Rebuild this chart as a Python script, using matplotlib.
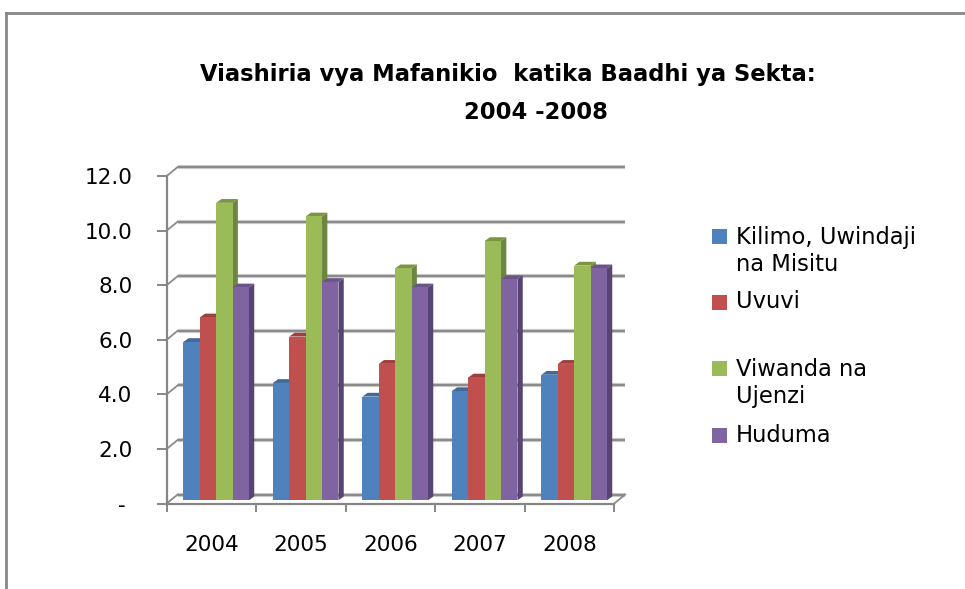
import matplotlib
matplotlib.use("Agg")
import matplotlib.pyplot as plt
from matplotlib.patches import Polygon, Rectangle
from matplotlib.lines import Line2D
import numpy as np

# ---------------- data ----------------
years = ["2004", "2005", "2006", "2007", "2008"]
series_names = ["Kilimo, Uwindaji\nna Misitu", "Uvuvi", "Viwanda na\nUjenzi", "Huduma"]
kilimo = [5.8, 4.3, 3.8, 4.0, 4.6]
uvuvi = [6.7, 6.0, 5.0, 4.5, 5.0]
viwanda = [10.9, 10.4, 8.5, 9.5, 8.6]
huduma = [7.8, 8.0, 7.8, 8.1, 8.5]
y_ticks = [0, 2, 4, 6, 8, 10, 12]
y_tick_labels = ["- ", "2.0", "4.0", "6.0", "8.0", "10.0", "12.0"]
title_line1 = "Viashiria vya Mafanikio  katika Baadhi ya Sekta:"
title_line2 = "2004 -2008"

series = [kilimo, uvuvi, viwanda, huduma]
front_cols = ["#4F81BD", "#C0504D", "#9BBB59", "#8064A2"]
side_cols = ["#365E8C", "#873735", "#6C8540", "#574473"]
top_cols = ["#40699C", "#9E403E", "#7B963F", "#6A5488"]

W, H = 965, 589
fig = plt.figure(figsize=(W / 100, H / 100), dpi=100)
fig.patch.set_facecolor("white")

# outer frame (top and left edges visible)
fig.add_artist(Line2D([6 / W, 1.0], [1 - 13 / H, 1 - 13 / H], color="#878787", lw=2.0, transform=fig.transFigure))
fig.add_artist(Line2D([6 / W, 6 / W], [0, 1 - 13 / H], color="#878787", lw=2.0, transform=fig.transFigure))

# front plane of the axes in pixels
x0, x1 = 166.7, 614.2
y0, y1 = 503.5, 176.0
ax = fig.add_axes([x0 / W, 1 - y0 / H, (x1 - x0) / W, (y0 - y1) / H])
ax.set_xlim(-0.5, len(years) - 0.5)
ax.set_ylim(0, 12)
ax.set_facecolor("none")

xr = (len(years)) / (x1 - x0)   # data units per px in x
yr = 12.0 / (y0 - y1)           # data units per px in y

def d(px_x, px_y):
    return px_x * xr, px_y * yr

# back wall offset and bar geometry (styling)
wall_dx, wall_dy = d(11, 9)
bar_dx, bar_dy = d(4.7, 3.2)
dep_dx, dep_dy = d(5.3, 3.8)
bw = 16.4 * xr

gray = "#8A8A8A"
xl, xh = -0.5, len(years) - 0.5
for v in y_ticks:
    ax.plot([xl + wall_dx, xh + wall_dx], [v + wall_dy, v + wall_dy], color="#C8C8C8", lw=3.0, solid_capstyle="butt", zorder=1, clip_on=False)
    ax.plot([xl + wall_dx, xh + wall_dx], [v + wall_dy, v + wall_dy], color=gray, lw=1.4, solid_capstyle="butt", zorder=1.1, clip_on=False)
    ax.plot([xl, xl + wall_dx], [v, v + wall_dy], color=gray, lw=1.3, zorder=1.1, clip_on=False)
ax.plot([xh, xh + wall_dx], [0, wall_dy], color=gray, lw=1.3, zorder=1.1, clip_on=False)

# bars with 3D faces
n = len(series)
x = np.arange(len(years))
for gi in range(len(years)):
    for si in range(n):
        v = series[si][gi]
        left = x[gi] - n * bw / 2 + si * bw + bar_dx
        right = left + bw
        b = bar_dy
        side = Polygon([(right, b), (right, b + v), (right + dep_dx, b + v + dep_dy), (right + dep_dx, b + dep_dy)],
                       closed=True, facecolor=side_cols[si], edgecolor="none", zorder=3 + si * 0.01 + gi * 0.1, clip_on=False)
        top = Polygon([(left, b + v), (right, b + v), (right + dep_dx, b + v + dep_dy), (left + dep_dx, b + v + dep_dy)],
                      closed=True, facecolor=top_cols[si], edgecolor="none", zorder=3 + si * 0.01 + gi * 0.1, clip_on=False)
        ax.add_patch(side)
        ax.add_patch(top)
        ax.bar([left], [v], width=bw, bottom=b, align="edge", color=front_cols[si], edgecolor="none",
               zorder=3.005 + si * 0.01 + gi * 0.1, clip_on=False)

# spines and ticks
for s in ["top", "right"]:
    ax.spines[s].set_visible(False)
for s in ["left", "bottom"]:
    ax.spines[s].set_color("#868686")
    ax.spines[s].set_linewidth(1.6)
    ax.spines[s].set_zorder(2)

ax.set_yticks(y_ticks)
ax.set_yticklabels(y_tick_labels)
ax.tick_params(axis="y", length=7.5, width=1.4, color="#868686", pad=17, labelsize=15.5, labelcolor="black")
ax.set_xticks(x)
ax.set_xticklabels(years)
ax.set_xticks(np.arange(len(years) + 1) - 0.5, minor=True)
ax.tick_params(axis="x", which="major", length=0, pad=23, labelsize=15.5, labelcolor="black")
ax.tick_params(axis="x", which="minor", length=5.5, width=1.4, color="#868686")
for lab in ax.get_xticklabels() + ax.get_yticklabels():
    lab.set_family("DejaVu Sans")

# title
fig.text(508 / W, 1 - 81 / H, title_line1, ha="center", va="baseline", fontsize=16.3,
         fontweight="bold", family="DejaVu Sans", color="black")
fig.text(536 / W, 1 - 119 / H, title_line2, ha="center", va="baseline", fontsize=16.3,
         fontweight="bold", family="DejaVu Sans", color="black")

# legend (manual)
marker_y = [236.7, 302.0, 368.0, 435.0]
text_y = [250.9, 302.0, 383.0, 435.0]
for si in range(n):
    fig.add_artist(Rectangle((712 / W, 1 - (marker_y[si] + 7.5) / H), 15 / W, 15 / H,
                             transform=fig.transFigure, facecolor=front_cols[si], edgecolor="none"))
    fig.text(736 / W, 1 - text_y[si] / H, series_names[si], ha="left", va="center", fontsize=16.3,
             family="DejaVu Sans", color="black", linespacing=1.2)

fig.savefig("out.png", dpi=100, facecolor="white")
